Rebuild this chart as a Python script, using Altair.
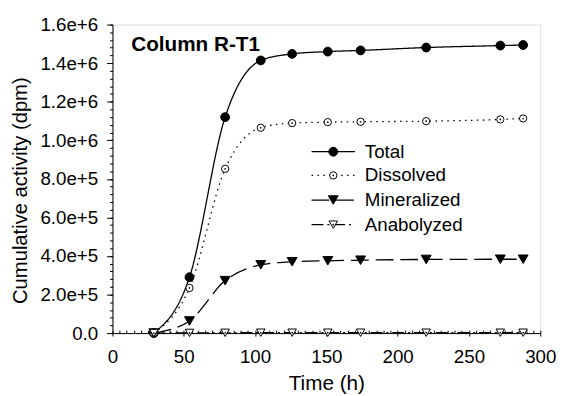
import altair as alt
import pandas as pd

# ---- data ----
time_h = [29, 54, 79, 104, 126, 151, 174, 220, 272, 288]
total = [0, 290000, 1120000, 1414000, 1448000, 1460000, 1466000, 1481000, 1491000, 1494000]
dissolved = [0, 234000, 852000, 1065000, 1089000, 1094000, 1096000, 1099000, 1108000, 1113000]
mineralized = [0, 63000, 272000, 354000, 370000, 375000, 378000, 382000, 383000, 383000]
anabolyzed = [0, 1000, 1500, 2000, 2000, 2000, 2000, 2000, 2000, 2000]
series_names = ["Total", "Dissolved", "Mineralized", "Anabolyzed"]
x_ticks = [0, 50, 100, 150, 200, 250, 300]
y_ticks = [0, 200000, 400000, 600000, 800000, 1000000, 1200000, 1400000, 1600000]
panel_title = "Column R-T1"

rows = []
for name, vals in zip(series_names, [total, dissolved, mineralized, anabolyzed]):
    for t, v in zip(time_h, vals):
        rows.append({"series": name, "time": t, "value": v})
df = pd.DataFrame(rows)

FONT = "Liberation Sans"
xscale = alt.Scale(domain=[0, 300], nice=False, zero=False)
yscale = alt.Scale(domain=[0, 1600000], nice=False)

styles = {
    "Total": dict(dash=[1, 0], shape="circle", filled=True, size=80, dot=False),
    "Dissolved": dict(dash=[1.5, 4.5], shape="circle", filled=False, size=55, dot=True),
    "Mineralized": dict(dash=[18, 7], shape="triangle-down", filled=True, size=100, dot=False),
    "Anabolyzed": dict(dash=[12, 4, 2, 4], shape="triangle-down", filled=False, size=75, dot=True),
}

base = alt.Chart(df)

x_major = alt.Axis(values=x_ticks, tickSize=3, labelFontSize=19, labelFont=FONT,
                   labelColor="black", labelPadding=12, labelFlush=False,
                   title="Time (h)", titleFontSize=21, titleFont=FONT,
                   titleFontWeight="normal", titleColor="black", titleY=57,
                   titleBaseline="alphabetic", domainColor="black", tickColor="black",
                   grid=False, orient="bottom")
x_minor = alt.Axis(values=list(range(0, 301, 5)), tickSize=3, offset=-3, labels=False,
                   domain=False, tickColor="black", grid=False, title=None, orient="bottom")
y_major = alt.Axis(values=y_ticks,
                   labelExpr="datum.value == 0 ? '0.0' : format(datum.value, '.1e')",
                   tickSize=6, labelPadding=9, labelFontSize=19, labelFont=FONT,
                   labelColor="black", labelFlush=False,
                   title="Cumulative activity (dpm)", titleFontSize=20.5, titleFont=FONT,
                   titleFontWeight="normal", titleColor="black", titleAngle=-90,
                   titleX=-87, titleY=168, titleAlign="center", titleBaseline="alphabetic",
                   domainColor="black", tickColor="black", grid=False, orient="left")
y_minor = alt.Axis(values=list(range(0, 1600001, 40000)), tickSize=3, labels=False,
                   domain=False, tickColor="black", grid=False, title=None, orient="left")

layers = []
# axis carrier layers (invisible)
layers.append(base.mark_point(opacity=0).encode(
    x=alt.X("time:Q", scale=xscale, axis=x_major),
    y=alt.Y("value:Q", scale=yscale, axis=y_major)))
layers.append(base.mark_point(opacity=0).encode(
    x=alt.X("time:Q", scale=xscale, axis=x_minor),
    y=alt.Y("value:Q", scale=yscale, axis=y_minor)))

for name in series_names:
    st = styles[name]
    sub = base.transform_filter(alt.datum.series == name)
    layers.append(sub.mark_line(color="black", strokeWidth=1.3, strokeDash=st["dash"],
                                interpolate="monotone").encode(
        x=alt.X("time:Q", scale=xscale, axis=None),
        y=alt.Y("value:Q", scale=yscale, axis=None)))
for name in series_names:
    st = styles[name]
    sub = base.transform_filter(alt.datum.series == name)
    layers.append(sub.mark_point(shape=st["shape"], filled=True,
                                 fill="black" if st["filled"] else "white",
                                 stroke="black", strokeWidth=1, size=st["size"],
                                 opacity=1).encode(
        x=alt.X("time:Q", scale=xscale, axis=None),
        y=alt.Y("value:Q", scale=yscale, axis=None)))
    if st["dot"]:
        layers.append(sub.mark_point(shape="circle", filled=True, color="black",
                                     size=3, opacity=1).encode(
            x=alt.X("time:Q", scale=xscale, axis=None),
            y=alt.Y("value:Q", scale=yscale, axis=None)))

# panel title
title_df = pd.DataFrame({"label": [panel_title]})
layers.append(alt.Chart(title_df).mark_text(font=FONT, fontSize=21, fontWeight="bold",
                                            align="left", baseline="alphabetic",
                                            color="black").encode(
    x=alt.value(19), y=alt.value(27), text="label:N"))

# manual legend
leg_y = [129, 153, 178, 203]
for i, name in enumerate(series_names):
    st = styles[name]
    ldf = pd.DataFrame({"label": [name]})
    lc = alt.Chart(ldf)
    layers.append(lc.mark_rule(color="black", strokeWidth=1.3, strokeDash=st["dash"]).encode(
        x=alt.value(202), x2=alt.value(246), y=alt.value(leg_y[i])))
    layers.append(lc.mark_point(shape=st["shape"], filled=True,
                                fill="black" if st["filled"] else "white",
                                stroke="black", strokeWidth=1, size=st["size"],
                                opacity=1).encode(
        x=alt.value(224), y=alt.value(leg_y[i])))
    if st["dot"]:
        layers.append(lc.mark_point(shape="circle", filled=True, color="black",
                                    size=3, opacity=1).encode(
            x=alt.value(224), y=alt.value(leg_y[i])))
    layers.append(lc.mark_text(font=FONT, fontSize=19, align="left", baseline="middle",
                               color="black").encode(
        x=alt.value(256), y=alt.value(leg_y[i]), text="label:N"))

chart = alt.layer(*layers).resolve_axis(x="independent", y="independent").properties(
    width=434, height=313,
    autosize=alt.AutoSizeParams(type="none"),
    padding={"left": 106, "top": 14, "right": 18, "bottom": 61},
).configure_view(stroke="#333333", strokeWidth=1).configure(background="white")

chart.save("out.html", embed_options={"renderer": "svg", "actions": False})
